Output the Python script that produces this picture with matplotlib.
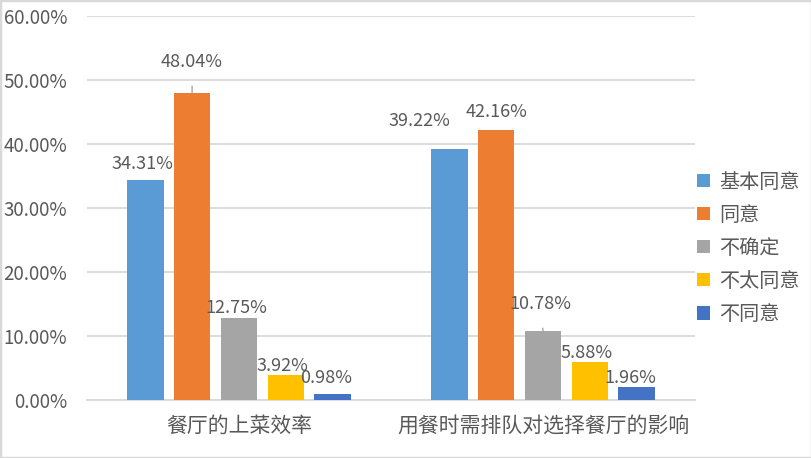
import matplotlib
matplotlib.use("Agg")
import matplotlib.pyplot as plt
from matplotlib.ticker import FuncFormatter, MultipleLocator
from matplotlib.patches import Rectangle

plt.rcParams['font.family'] = ['Noto Sans CJK SC', 'DejaVu Sans']

# 数据
categories = ['餐厅的上菜效率', '用餐时需排队对选择餐厅的影响']
series_names = ['基本同意', '同意', '不确定', '不太同意', '不同意']
values = [
    [34.31, 39.22],
    [48.04, 42.16],
    [12.75, 10.78],
    [3.92, 5.88],
    [0.98, 1.96],
]
colors = ['#5B9BD5', '#ED7D31', '#A5A5A5', '#FFC000', '#4472C4']

# 标签偏移 (x 类别单位, y 百分点)，以及是否画引导线
label_offsets = [
    [(-0.01, 2.6), (-0.10, 4.4)],
    [(0.0, 4.8), (0.0, 2.8)],
    [(-0.01, 1.6), (-0.01, 4.2)],
    [(-0.01, 1.4), (-0.01, 1.4)],
    [(-0.02, 2.5), (-0.02, 1.4)],
]
leader = [[False, False], [True, False], [False, True], [False, False], [False, False]]

text_color = '#595959'
grid_color = '#D9D9D9'

fig = plt.figure(figsize=(8.12, 4.58), dpi=100)
fig.patches.append(Rectangle((0, 0), 1, 1, transform=fig.transFigure,
                             fill=False, edgecolor=grid_color, linewidth=2.5))
ax = fig.add_axes([0.107, 0.127, 0.749, 0.838])

n = len(series_names)
step = 0.154
width = 0.12
for i, (name, vals, col) in enumerate(zip(series_names, values, colors)):
    xs = [c + (i - (n - 1) / 2) * step for c in range(len(categories))]
    ax.bar(xs, vals, width=width, color=col, label=name, zorder=3)
    for j, (x, v) in enumerate(zip(xs, vals)):
        dx, dy = label_offsets[i][j]
        if leader[i][j]:
            ax.annotate(f'{v:.2f}%', xy=(x, v), xytext=(x + dx, v + dy),
                        ha='center', va='center', fontsize=13, color=text_color,
                        arrowprops=dict(arrowstyle='-', color='#A6A6A6', lw=1,
                                        shrinkA=9, shrinkB=0), zorder=4)
        else:
            ax.text(x + dx, v + dy, f'{v:.2f}%', ha='center', va='center',
                    fontsize=13, color=text_color, zorder=4)

ax.set_xlim(-0.5, 1.5)
ax.set_ylim(0, 60)
ax.yaxis.set_major_locator(MultipleLocator(10))
ax.yaxis.set_major_formatter(FuncFormatter(lambda v, p: f'{v:.2f}%'))
ax.set_xticks(range(len(categories)))
ax.set_xticklabels(categories, fontsize=15, color=text_color)
ax.tick_params(axis='y', labelsize=13.5, labelcolor=text_color, length=0, pad=14)
ax.tick_params(axis='x', length=0, pad=11)
ax.grid(axis='y', color=grid_color, linewidth=1.3, zorder=0)
for s in ['top', 'right', 'left']:
    ax.spines[s].set_visible(False)
ax.spines['bottom'].set_color(grid_color)
ax.spines['bottom'].set_linewidth(1.3)

leg = ax.legend(loc='center left', bbox_to_anchor=(0.99, 0.395), frameon=False,
                fontsize=14.5, handlelength=0.65, handleheight=0.65,
                handletextpad=0.45, labelspacing=0.6, borderaxespad=0.0)
for t in leg.get_texts():
    t.set_color(text_color)

fig.savefig('out.png', dpi=100)
